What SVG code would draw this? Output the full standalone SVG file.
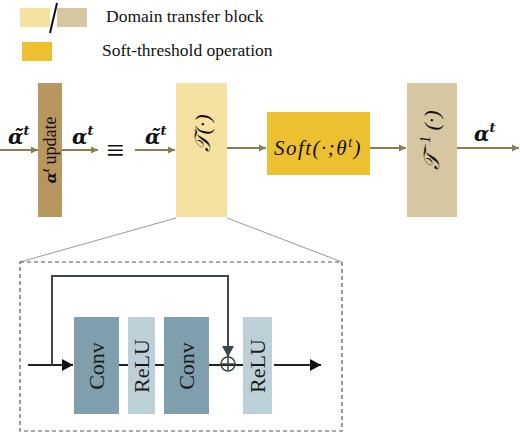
<svg xmlns="http://www.w3.org/2000/svg" width="520" height="433" viewBox="0 0 520 433">
<defs>
<marker id="ah" markerWidth="8" markerHeight="8" refX="7" refY="4" orient="auto" markerUnits="userSpaceOnUse"><path d="M0,0.5 L7,4 L0,7.5 Z" fill="#8c7d4c"/></marker>
<marker id="ak" markerWidth="12" markerHeight="12" refX="11" refY="6" orient="auto" markerUnits="userSpaceOnUse"><path d="M0,0 L11,6 L0,12 Z" fill="#111"/></marker>
<marker id="ag" markerWidth="12" markerHeight="12" refX="11" refY="6" orient="auto" markerUnits="userSpaceOnUse"><path d="M0,0 L11,6 L0,12 Z" fill="#3b474c"/></marker>
</defs>
<style>
.lbl{font-family:"Liberation Serif","DejaVu Serif",serif;fill:#111}
.greek{font-family:"DejaVu Serif",serif;font-weight:bold;font-style:italic;font-size:20px;fill:#111}
.sup{font-size:13px}
.blk{font-family:"Liberation Serif","DejaVu Serif",serif;font-size:22px;fill:#1a1a1a}
.fl{stroke:#8c7d4c;stroke-width:2;fill:none}
.dk{stroke:#222;stroke-width:2;fill:none}
</style>
<rect width="520" height="433" fill="#fff"/>
<g id="legend">
<rect x="20" y="8" width="30" height="19" fill="#f5e1a0"/>
<rect x="57" y="8" width="30" height="19" fill="#d6c6a2"/>
<line x1="57" y1="3" x2="50" y2="33" stroke="#111" stroke-width="2"/>
<text class="lbl" x="106" y="22" font-size="17.5">Domain transfer block</text>
<rect x="22" y="42" width="30" height="19" fill="#edc032"/>
<text class="lbl" x="102" y="56" font-size="17.5">Soft-threshold operation</text>
</g>
<g id="connectors">
<line class="fl" x1="0" y1="150" x2="38" y2="150" marker-end="url(#ah)"/>
<line class="fl" x1="62" y1="150" x2="98" y2="150" marker-end="url(#ah)"/>
<line class="fl" x1="135" y1="150" x2="175" y2="150" marker-end="url(#ah)"/>
<line class="fl" x1="227" y1="148" x2="266" y2="148" marker-end="url(#ah)"/>
<line class="fl" x1="370" y1="148" x2="406" y2="148" marker-end="url(#ah)"/>
<line class="fl" x1="457" y1="148" x2="519" y2="148" marker-end="url(#ah)"/>
<line x1="176" y1="218" x2="20" y2="262" stroke="#999" stroke-width="1"/>
<line x1="227" y1="218" x2="342" y2="262" stroke="#999" stroke-width="1"/>
<line class="dk" x1="28" y1="365" x2="73" y2="365" marker-end="url(#ak)"/>
<line class="dk" x1="119" y1="365" x2="128" y2="365"/>
<line class="dk" x1="155" y1="365" x2="164" y2="365"/>
<line class="dk" x1="209" y1="365" x2="243" y2="365"/>
<line class="dk" x1="274" y1="365" x2="321" y2="365" marker-end="url(#ak)"/>
<polyline points="52,365 52,276 228,276 228,357" stroke="#3b474c" stroke-width="2" fill="none" marker-end="url(#ag)"/>
</g>
<g id="alpha-update">
<rect x="38" y="83" width="24" height="134" fill="#b8975f"/>
<text class="lbl" font-size="18" transform="translate(56,150) rotate(-90)" text-anchor="middle"><tspan font-family="DejaVu Serif" font-size="15" font-weight="bold" font-style="italic">α</tspan><tspan font-weight="bold" font-style="italic" font-size="11" dy="-7">t</tspan><tspan dy="7"> update</tspan></text>
</g>
<g id="labels-main">
<text class="greek" x="8" y="144">α̃<tspan class="sup" dy="-9">t</tspan></text>
<text class="greek" x="72" y="144">α<tspan class="sup" dy="-9">t</tspan></text>
<text class="lbl" x="115" y="161" font-size="32" text-anchor="middle">≡</text>
<text class="greek" x="145" y="144">α̃<tspan class="sup" dy="-9">t</tspan></text>
<text class="greek" x="474" y="141">α<tspan class="sup" dy="-9">t</tspan></text>
</g>
<g id="T">
<rect x="176" y="83" width="51" height="134" fill="#f5e1a0"/>
<text class="lbl" font-size="22" font-style="italic" transform="translate(210,133) rotate(-90)" text-anchor="middle">𝒯(·)</text>
</g>
<g id="soft">
<rect x="267" y="112" width="103" height="63" fill="#edc032"/>
<text class="lbl" font-size="21" font-style="italic" x="318" y="155" text-anchor="middle" letter-spacing="1.5">Soft(·;θ<tspan font-size="14" dy="-8">t</tspan><tspan dy="8">)</tspan></text>
</g>
<g id="Tinv">
<rect x="407" y="83" width="50" height="134" fill="#d6c6a2"/>
<text class="lbl" font-size="22" font-style="italic" transform="translate(439,140) rotate(-90)" text-anchor="middle">𝒯<tspan font-size="14" dy="-9">−1</tspan><tspan dy="9"> (·)</tspan></text>
</g>
<g id="detail">
<rect x="20" y="262" width="322" height="169" fill="none" stroke="#555" stroke-width="1.2" stroke-dasharray="4,3"/>
</g>
<g id="conv1">
<rect x="74" y="317" width="45" height="97" fill="#7f9fad"/>
<text class="blk" transform="translate(104,366) rotate(-90)" text-anchor="middle">Conv</text>
</g>
<g id="relu1">
<rect x="128" y="317" width="27" height="97" fill="#bdcfd7"/>
<text class="blk" transform="translate(149,366) rotate(-90)" text-anchor="middle">ReLU</text>
</g>
<g id="conv2">
<rect x="164" y="317" width="45" height="97" fill="#7f9fad"/>
<text class="blk" transform="translate(194,366) rotate(-90)" text-anchor="middle">Conv</text>
</g>
<g id="sum">
<circle cx="228" cy="364" r="7" fill="none" stroke="#3b474c" stroke-width="1.5"/>
<line x1="221" y1="364" x2="235" y2="364" stroke="#3b474c" stroke-width="1.5"/>
<line x1="228" y1="357" x2="228" y2="371" stroke="#3b474c" stroke-width="1.5"/>
</g>
<g id="relu2">
<rect x="243" y="317" width="29" height="97" fill="#bdcfd7"/>
<text class="blk" transform="translate(265,366) rotate(-90)" text-anchor="middle">ReLU</text>
</g>
</svg>
